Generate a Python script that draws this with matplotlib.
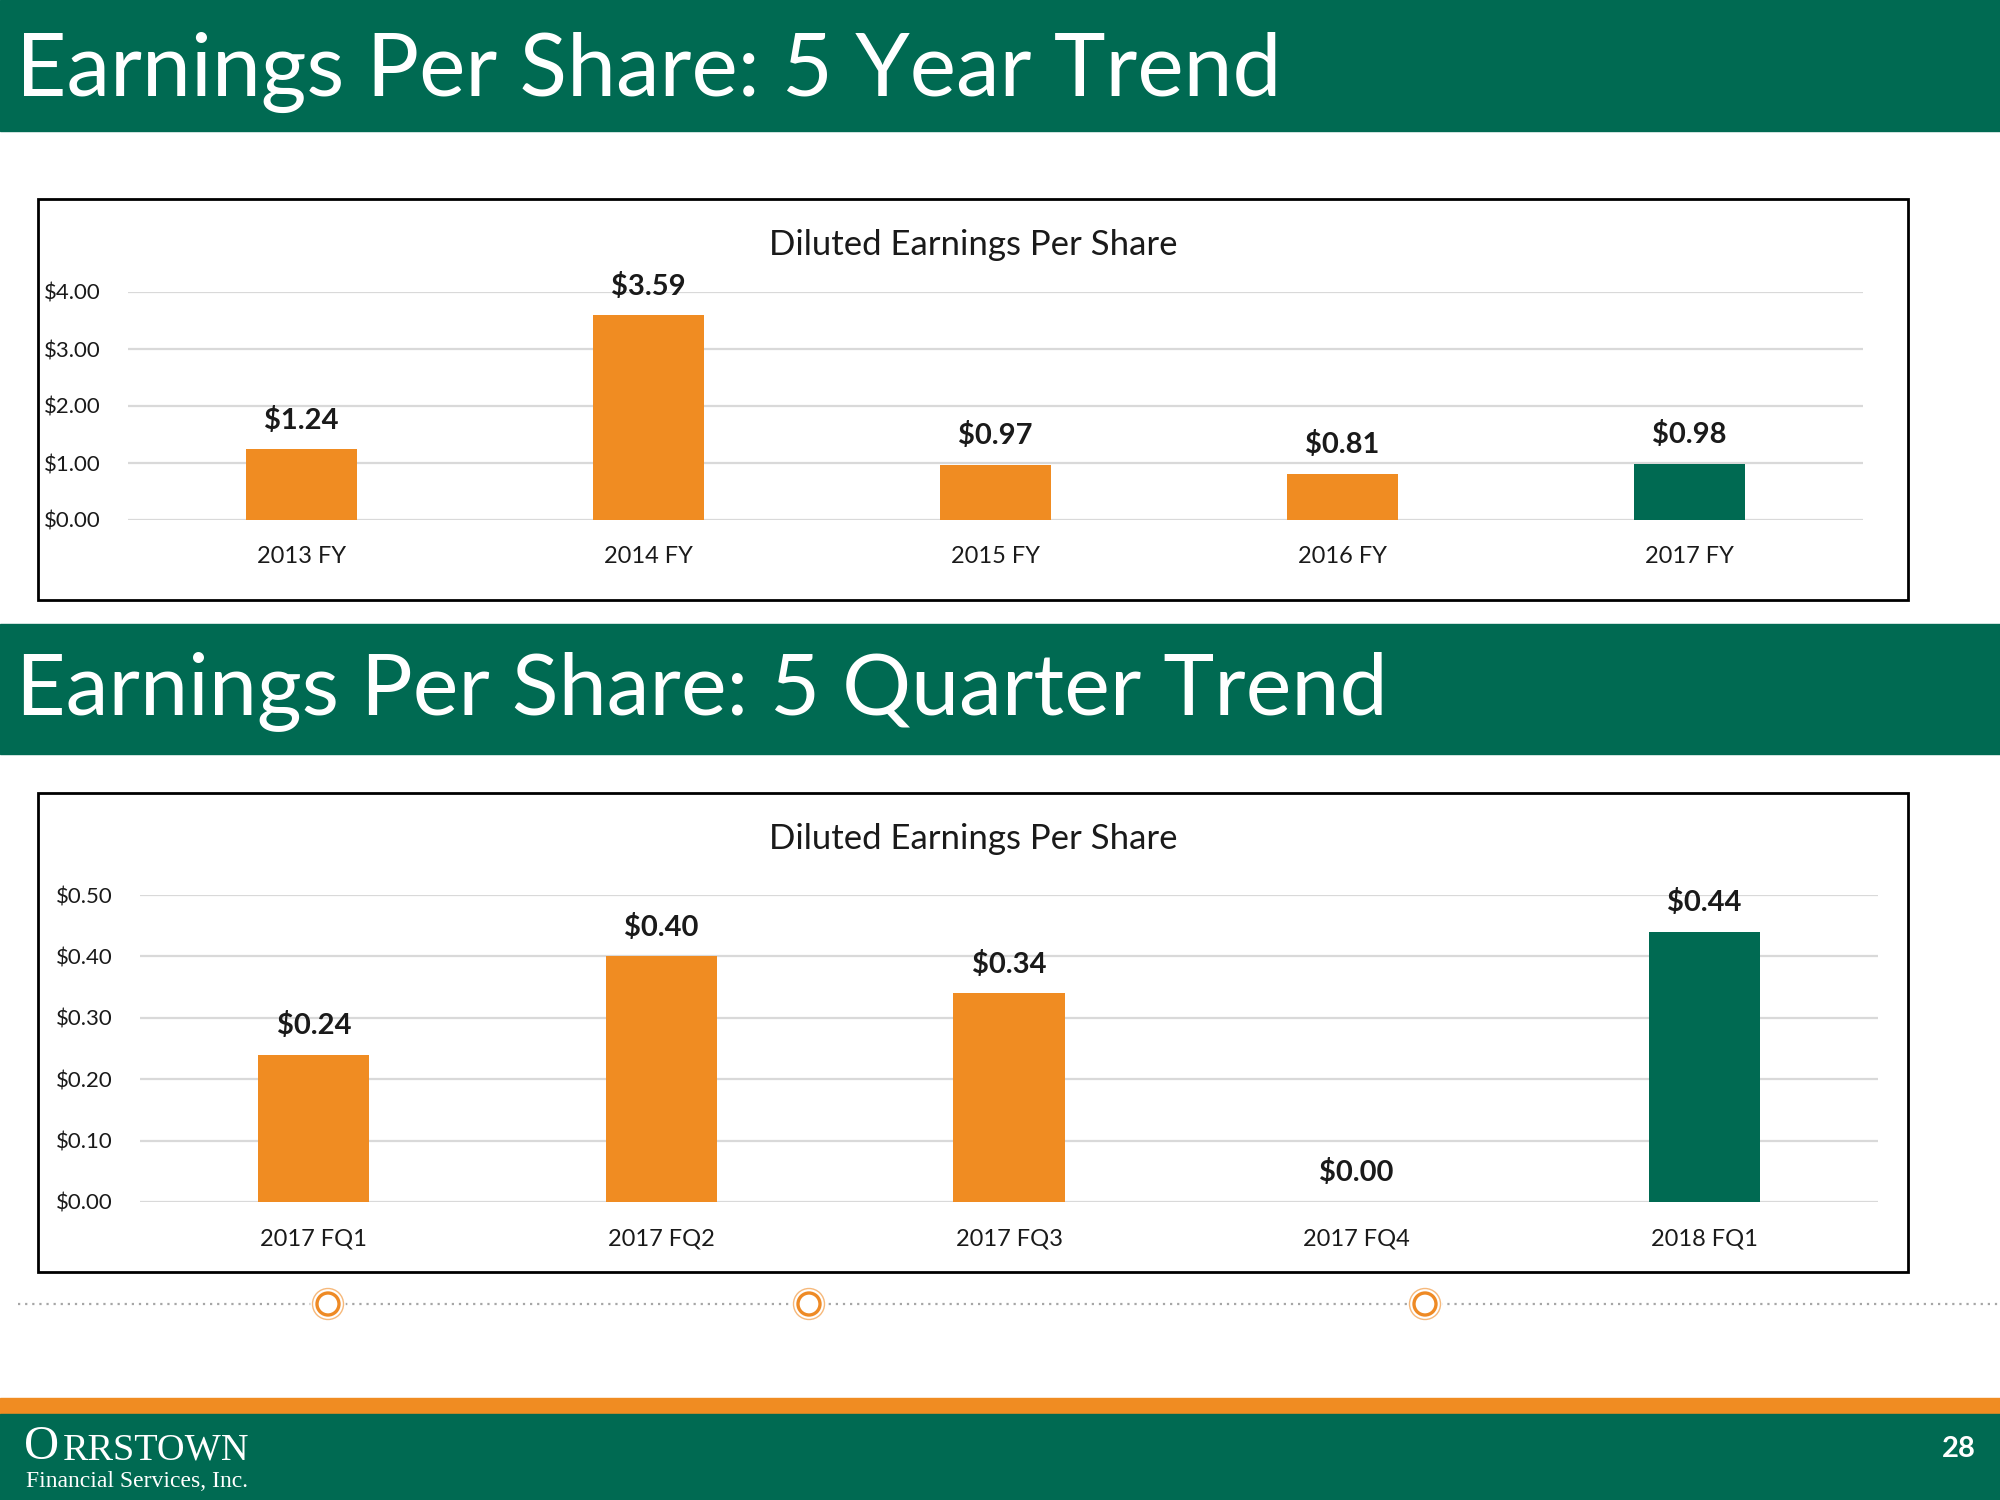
import matplotlib
matplotlib.use("Agg")
import matplotlib.pyplot as plt
from matplotlib.patches import Rectangle, Circle
from matplotlib.ticker import FuncFormatter

# ---- data ----
year_categories = ["2013 FY", "2014 FY", "2015 FY", "2016 FY", "2017 FY"]
year_eps = [1.24, 3.59, 0.97, 0.81, 0.98]
year_ticks = [0.0, 1.0, 2.0, 3.0, 4.0]

quarter_categories = ["2017 FQ1", "2017 FQ2", "2017 FQ3", "2017 FQ4", "2018 FQ1"]
quarter_eps = [0.24, 0.40, 0.34, 0.00, 0.44]
quarter_ticks = [0.0, 0.1, 0.2, 0.3, 0.4, 0.5]

title_top = "Earnings Per Share: 5 Year Trend"
title_bottom = "Earnings Per Share: 5 Quarter Trend"
chart_title = "Diluted Earnings Per Share"
page_number = "28"

# ---- style ----
GREEN = "#006A52"
ORANGE = "#F08C22"
GRID = "#D9D9D9"
TEXT = "#1A1A1A"
plt.rcParams["font.family"] = ["Lato", "DejaVu Sans"]

W, H = 2000, 1500
fig = plt.figure(figsize=(20, 15), dpi=100)
fig.patch.set_facecolor("white")

# overlay axes in pixel coordinates (top-down)
bg = fig.add_axes([0, 0, 1, 1])
bg.set_xlim(0, W)
bg.set_ylim(H, 0)
bg.axis("off")


def px_rect(x0, y0, x1, y1):
    return [x0 / W, 1 - y1 / H, (x1 - x0) / W, (y1 - y0) / H]


# header bands
bg.add_patch(Rectangle((0, 0), W, 131, color=GREEN, zorder=1))
bg.add_patch(Rectangle((0, 624), W, 130, color=GREEN, zorder=1))
bg.text(16, 96, title_top, color="white", fontsize=63, va="baseline", ha="left", zorder=2)
bg.text(16, 714, title_bottom, color="white", fontsize=62, va="baseline", ha="left", zorder=2)

# chart frames
bg.add_patch(Rectangle((38, 199), 1870, 401, fill=False, ec="black", lw=2, zorder=2))
bg.add_patch(Rectangle((38, 793), 1870, 479, fill=False, ec="black", lw=2, zorder=2))

# chart titles
bg.text(973, 245, chart_title, color=TEXT, fontsize=25, ha="center", va="center", zorder=2)
bg.text(973, 839, chart_title, color=TEXT, fontsize=25, ha="center", va="center", zorder=2)

# dotted divider with rings
bg.plot([18, W], [1304, 1304], color="#A6A6A6", lw=1.6, linestyle=(0, (1, 2.2)),
        dash_capstyle="butt", zorder=1)
for cx in (328, 809, 1425):
    bg.add_patch(Circle((cx, 1304), 17, color="white", zorder=2))
    bg.add_patch(Circle((cx, 1304), 15.5, fill=False, ec="#F6B87A", lw=1.0, zorder=3))
    bg.add_patch(Circle((cx, 1304), 11, fill=False, ec="#EE8A25", lw=2.4, zorder=3))

# footer
bg.add_patch(Rectangle((0, 1398), W, 16, color=ORANGE, zorder=1))
bg.add_patch(Rectangle((0, 1414), W, 86, color=GREEN, zorder=1))
bg.text(24, 1459, "O", family="Liberation Serif", fontsize=35, color="white",
        va="baseline", ha="left", zorder=2)
bg.text(63, 1459, "RRSTOWN", family="Liberation Serif", fontsize=27.5, color="white",
        va="baseline", ha="left", zorder=2)
bg.text(26, 1487, "Financial Services, Inc.", family="Liberation Serif", fontsize=17,
        color="white", va="baseline", ha="left", zorder=2)
bg.text(1959, 1449, page_number, color="white", fontsize=21, fontweight="bold",
        ha="center", va="center", zorder=2)


def bar_chart(rect, cats, vals, ticks):
    ax = fig.add_axes(rect)
    ax.patch.set_alpha(0)
    n = len(cats)
    colors = [ORANGE] * (n - 1) + [GREEN]
    x = list(range(n))
    ax.bar(x, vals, width=0.32, color=colors, zorder=3)
    ax.set_xlim(-0.5, n - 0.5)
    ax.set_ylim(ticks[0], ticks[-1])
    ax.set_yticks(ticks)
    ax.yaxis.set_major_formatter(FuncFormatter(lambda v, p: f"${v:.2f}"))
    ax.set_xticks(x)
    ax.set_xticklabels(cats)
    ax.grid(axis="y", color=GRID, lw=1.6, zorder=0)
    ax.set_axisbelow(True)
    for s in ax.spines.values():
        s.set_visible(False)
    ax.tick_params(axis="both", length=0, colors=TEXT)
    ax.tick_params(axis="y", labelsize=16, pad=20)
    ax.tick_params(axis="x", labelsize=17, pad=19)
    for xi, v in zip(x, vals):
        ax.annotate(f"${v:.2f}", (xi, v), xytext=(0, 21), textcoords="offset points",
                    ha="center", va="center", fontsize=21, fontweight="bold",
                    color=TEXT, annotation_clip=False, zorder=4)
    return ax


bar_chart(px_rect(128, 292, 1863, 520), year_categories, year_eps, year_ticks)
bar_chart(px_rect(140, 895, 1878, 1202), quarter_categories, quarter_eps, quarter_ticks)

fig.savefig("out.png", dpi=100, facecolor="white")
